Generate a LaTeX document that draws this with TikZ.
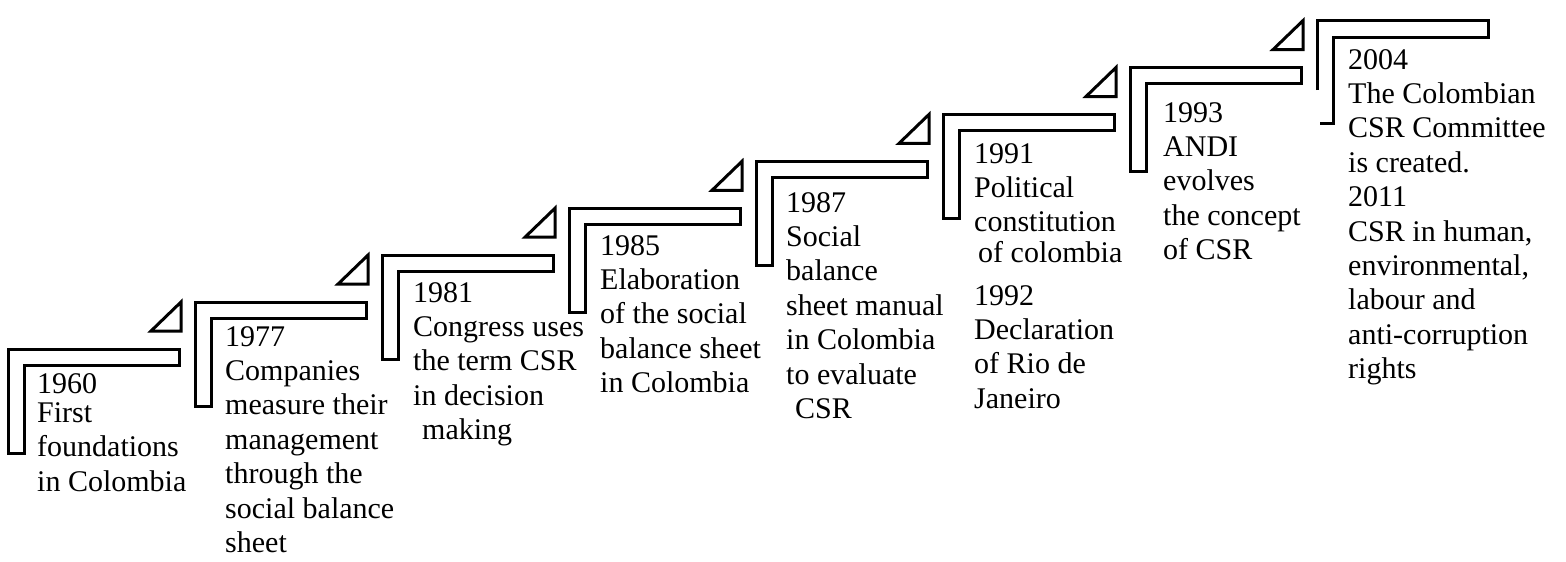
\documentclass[tikz,border=0pt]{standalone}
\usepackage{fontspec}
\setmainfont{Liberation Serif}
\newcommand{\entrylines}[1]{\begin{tabular}[t]{@{}l@{}}#1\end{tabular}}
\tikzset{
  stair/.style={draw=black, line width=3pt, line join=miter},
  flag/.style={draw=black, line width=3pt, line join=miter},
  milestone/.style={anchor=base west, inner sep=0pt,
    font=\fontsize{30}{34.4}\selectfont}
}
\begin{document}
\begin{tikzpicture}[x=1pt, y=-1pt]
  \useasboundingbox (0,0) rectangle (1566,562);
  % Steps with their triangle markers
  \foreach \i in {0,...,6} {
    \pgfmathsetmacro{\sx}{8+187*\i}
    \pgfmathsetmacro{\sy}{349-46.9*\i}
    \draw[stair] (\sx,\sy) -- ++(171,0) -- ++(0,16) -- ++(-155,0)
      -- ++(0,88) -- ++(-16,0) -- cycle;
    \draw[flag] (\sx+143,\sy-18) -- ++(30,0) -- ++(0,-29) -- cycle;
  }
  % Last step (left edge broken)
  \draw[stair] (1317,90) -- (1317,20) -- (1488,20) -- (1488,37)
    -- (1333,37) -- (1333,123) -- (1320,123);
  % Milestones
  \node[milestone] (m1960) at (37,393)
    {\entrylines{1960\\[-5pt]First\\foundations\\in Colombia}};
  \node[milestone] (m1977) at (225,346)
    {\entrylines{1977\\Companies\\measure their\\management\\through the\\social balance\\sheet}};
  \node[milestone] (m1981) at (413,302)
    {\entrylines{1981\\Congress uses\\the term CSR\\in decision\\\hspace{9pt}making}};
  \node[milestone] (m1985) at (600,255)
    {\entrylines{1985\\Elaboration\\of the social\\balance sheet\\in Colombia}};
  \node[milestone] (m1987) at (786,212)
    {\entrylines{1987\\Social\\balance\\sheet manual\\in Colombia\\to evaluate\\\hspace{9pt}CSR}};
  \node[milestone] (m1991) at (974,163)
    {\entrylines{1991\\Political\\constitution\\[-4pt]\hspace{4pt}of colombia}};
  \node[milestone] (m1992) at (974,305)
    {\entrylines{1992\\Declaration\\of Rio de\\Janeiro}};
  \node[milestone] (m1993) at (1163,122)
    {\entrylines{1993\\ANDI\\evolves\\the concept\\of CSR}};
  \node[milestone] (m2004) at (1348,69)
    {\entrylines{2004\\The Colombian\\CSR Committee\\is created.\\2011\\CSR in human,\\environmental,\\labour and\\anti-corruption\\rights}};
\end{tikzpicture}
\end{document}
